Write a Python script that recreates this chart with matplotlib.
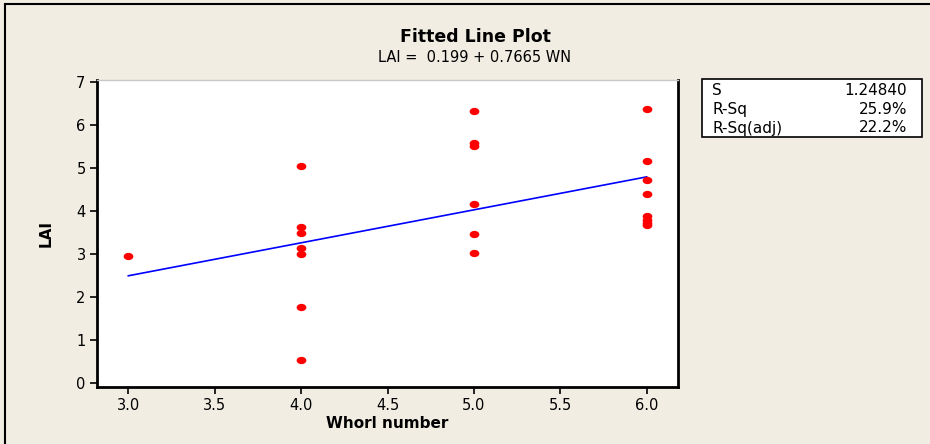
# Fitted line plot: LAI vs whorl number (Minitab style)
import matplotlib
matplotlib.use("Agg")
from matplotlib import pyplot as plt
from matplotlib.patches import Rectangle
from matplotlib.path import Path
import numpy as np

# Data
whorl = [3,
         4, 4, 4, 4, 4, 4, 4,
         5, 5, 5, 5, 5, 5,
         6, 6, 6, 6, 6, 6, 6, 6]
lai = [2.97,
       5.05, 3.64, 3.50, 3.15, 3.01, 1.77, 0.53,
       6.33, 5.58, 5.52, 4.17, 3.47, 3.03,
       6.37, 5.17, 4.72, 4.40, 3.88, 3.80, 3.72, 3.67]

intercept = 0.199
slope = 0.7665
stat_names = ["S", "R-Sq", "R-Sq(adj)"]
stat_values = ["1.24840", "25.9%", "22.2%"]
xticks = [3.0, 3.5, 4.0, 4.5, 5.0, 5.5, 6.0]
yticks = [0, 1, 2, 3, 4, 5, 6, 7]

bg = "#f1ede3"
W, H = 930, 444

# Slightly flattened dot, like the original
circ = Path.unit_circle()
ellipse = Path(circ.vertices * np.array([1.0, 0.75]), circ.codes)

fig = plt.figure(figsize=(9.3, 4.44), dpi=100, facecolor=bg)

# Outer frame (cut off at right and bottom)
fig.patches.append(Rectangle((5 / W, -0.1), 2.0, 1 - 4 / H + 0.1,
                             transform=fig.transFigure, fill=False,
                             edgecolor="black", linewidth=1.5))

ax = fig.add_axes([96.7 / W, 1 - 386.7 / H, (678.3 - 96.7) / W, (386.7 - 80) / H])
ax.set_facecolor("white")

# Fitted line over data range
xl = np.array([min(whorl), max(whorl)])
ax.plot(xl, intercept + slope * xl, color="#0000ff", linewidth=1.2, zorder=2)

# Points
ax.plot(whorl, lai, linestyle="none", marker=ellipse, color="#ff0000",
        markersize=7, markeredgewidth=0, zorder=3)

ax.set_xlim(2.817, 6.183)
ax.set_ylim(-0.08, 7.05)
ax.set_xticks(xticks)
ax.set_xticklabels(["%.1f" % t for t in xticks])
ax.set_yticks(yticks)
ax.tick_params(direction="out", length=5, width=1.2, labelsize=10.5, pad=3)

for side in ["left", "bottom", "right"]:
    ax.spines[side].set_linewidth(2)
    ax.spines[side].set_color("black")
ax.spines["top"].set_linewidth(1)
ax.spines["top"].set_color("#c8c8c8")

ax.set_xlabel("Whorl number", fontsize=11, fontweight="bold", labelpad=2)
ax.set_ylabel("LAI", fontsize=11, fontweight="bold", labelpad=16)

# Titles
fig.text(475 / W, 1 - 37 / H, "Fitted Line Plot", ha="center", va="center",
         fontsize=12.5, fontweight="bold")
fig.text(475 / W, 1 - 57 / H, "LAI =  %.3f + %.4f WN" % (intercept, slope),
         ha="center", va="center", fontsize=10.5)

# Stats box
fig.patches.append(Rectangle((702 / W, 1 - 136.7 / H), (921.7 - 702) / W, (136.7 - 79.3) / H,
                             transform=fig.transFigure, facecolor="white",
                             edgecolor="black", linewidth=1.2))
row_y = [90, 109, 128]
for name, val, yy in zip(stat_names, stat_values, row_y):
    fig.text(712 / W, 1 - yy / H, name, ha="left", va="center", fontsize=11)
    fig.text(907 / W, 1 - yy / H, val, ha="right", va="center", fontsize=11)

fig.savefig("out.png", dpi=100, facecolor=bg)
